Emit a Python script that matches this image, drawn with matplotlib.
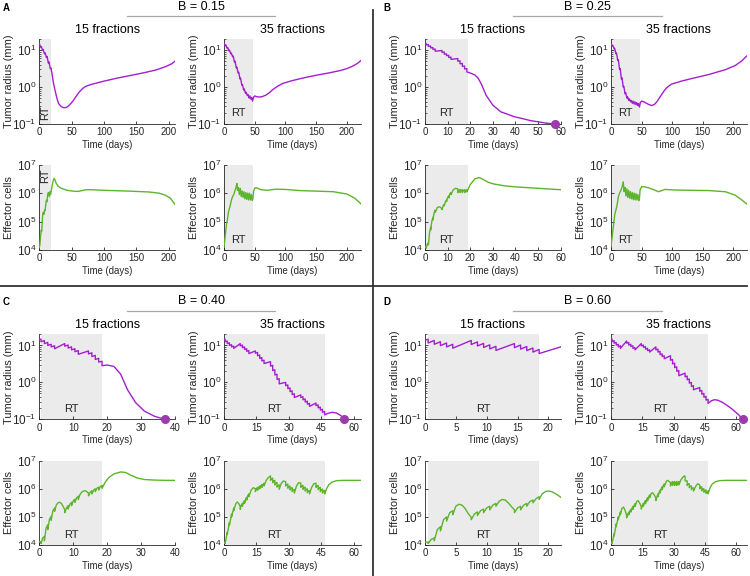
import matplotlib
matplotlib.use("Agg")
import matplotlib.pyplot as plt
from matplotlib.lines import Line2D
import numpy as np

plt.rcParams['font.family'] = ['Liberation Sans', 'DejaVu Sans']
plt.rcParams['mathtext.fontset'] = 'custom'
plt.rcParams['mathtext.rm'] = 'Liberation Sans'
plt.rcParams['mathtext.it'] = 'Liberation Sans:italic'
plt.rcParams['mathtext.bf'] = 'Liberation Sans:bold'
plt.rcParams['axes.unicode_minus'] = False

# ---------------- data (log10 units) ----------------
fx15 = [0.5, 1.5, 2.5, 3.5, 4.5, 7.5, 8.5, 9.5, 10.5, 11.5, 14.5, 15.5, 16.5, 17.5, 18.5]
fx35 = [0.5, 1.5, 2.5, 3.5, 4.5, 7.5, 8.5, 9.5, 10.5, 11.5, 14.5, 15.5, 16.5, 17.5, 18.5,
        21.5, 22.5, 23.5, 24.5, 25.5, 28.5, 29.5, 30.5, 31.5, 32.5, 35.5, 36.5, 37.5, 38.5, 39.5,
        42.5, 43.5, 44.5, 45.5, 46.5]

# B = 0.15
a15_tum_t = [0, 2, 3, 5, 6, 8, 9, 11, 12, 14, 15, 17, 18, 19.5, 22, 25, 28, 30, 34, 38,
             42, 46, 52, 57, 62, 67, 72, 80, 100, 120, 140, 160, 180, 195, 205, 210]
a15_tum_log = [1.18, 1.08, 1.1, 1.0, 1.02, 0.9, 0.93, 0.8, 0.83, 0.65, 0.68, 0.5, 0.52, 0.38, 0.1, -0.14, -0.35, -0.45, -0.53, -0.56,
               -0.55, -0.5, -0.38, -0.25, -0.13, -0.04, 0.02, 0.07, 0.16, 0.24, 0.31, 0.38, 0.46, 0.55, 0.63, 0.7]
a15_eff_t = [0, 1, 2, 3, 3.7, 4.5, 5.5, 6.3, 7, 8, 9, 10, 11, 12, 13, 14, 15.5, 16.5, 17.5, 18.5,
             19.5, 21, 23, 24.5, 26, 29, 33, 43, 52, 60, 72, 80, 100, 140, 170, 185, 195, 203, 210]
a15_eff_log = [4.08, 4.2, 4.5, 4.7, 4.65, 5.0, 5.3, 5.32, 5.25, 5.4, 5.38, 5.6, 5.75, 5.7, 5.95, 6.02, 5.88, 6.05, 5.95, 6.1,
               6.2, 6.4, 6.52, 6.45, 6.35, 6.25, 6.18, 6.1, 6.07, 6.06, 6.12, 6.12, 6.1, 6.07, 6.04, 6.0, 5.93, 5.82, 5.6]
a35_tum_t = [0, 2, 3, 5, 6, 8, 9, 11, 12, 14, 15, 17, 18, 20, 21, 23, 24, 26, 27, 29,
             30, 32, 33, 35, 36, 38, 39, 41, 42, 44, 45, 46.5, 48, 50, 53, 57, 62, 68, 74, 80,
             88, 96, 110, 130, 150, 170, 190, 200, 210, 218, 223]
a35_tum_log = [1.18, 1.12, 1.14, 1.05, 1.07, 0.98, 1.0, 0.9, 0.92, 0.82, 0.84, 0.68, 0.7, 0.52, 0.54, 0.38, 0.4, 0.22, 0.24, 0.05,
               0.07, -0.08, -0.05, -0.17, -0.14, -0.23, -0.2, -0.3, -0.24, -0.33, -0.28, -0.38, -0.28, -0.24, -0.26, -0.27, -0.26, -0.22, -0.15, -0.06,
               0.03, 0.1, 0.17, 0.25, 0.32, 0.38, 0.45, 0.5, 0.57, 0.65, 0.72]
a35_eff_t = [0, 2, 4, 5.5, 7, 8, 10, 12, 14, 16, 18, 19.5, 21, 22, 23.5, 25, 26.5, 28, 29.5, 31,
             32.5, 34, 35.5, 37, 38.5, 40, 41.5, 43, 44.5, 46, 47, 48, 50, 53, 60, 70, 85, 100, 123, 150,
             178, 200, 213, 223]
a35_eff_log = [4.1, 4.5, 4.9, 5.05, 5.3, 5.4, 5.55, 5.75, 5.88, 5.95, 6.1, 6.2, 6.34, 6.1, 6.2, 5.95, 6.17, 5.88, 6.08, 5.85,
               6.05, 5.8, 6.02, 5.78, 6.0, 5.76, 6.0, 5.76, 5.95, 5.74, 5.8, 6.05, 6.18, 6.19, 6.12, 6.1, 6.14, 6.13, 6.09, 6.07,
               6.05, 5.97, 5.82, 5.62]

# B = 0.25
b15_tum_pre = [1.18, 1.15, 1.11, 1.07, 1.03, 0.99, 0.95, 0.90, 0.86, 0.81, 0.77, 0.71, 0.64, 0.57, 0.50]
b15_tum_post = [1.14, 1.10, 1.06, 1.02, 0.97, 0.94, 0.89, 0.85, 0.80, 0.75, 0.70, 0.63, 0.56, 0.49, 0.41]
b15_tum_xt = [0, 20, 22, 23.5, 25, 27, 30, 33.5, 39.4, 46.8, 54, 57.5]
b15_tum_xlog = [1.18, 0.38, 0.33, 0.24, 0.07, -0.22, -0.49, -0.67, -0.8, -0.91, -0.98, -1.0]
b15_eff_pre = [4.1, 4.25, 4.8, 5.15, 5.4, 5.45, 5.6, 5.75, 5.9, 6.02, 6.15, 6.13, 6.12, 6.12, 6.12]
b15_eff_post = [4.06, 4.18, 4.7, 5.05, 5.32, 5.42, 5.55, 5.7, 5.83, 5.95, 6.02, 6.02, 6.02, 6.02, 6.04]
b15_eff_xt = [0, 1.0, 2.0, 3.0, 4.0, 5.5, 6.5, 8, 9, 10, 11, 12.5, 13.5, 15, 16, 17, 18,
              20, 22, 24, 26, 28, 30.5, 35, 40, 50, 60]
b15_eff_xlog = [4.12, 4.2, 4.6, 5.0, 5.3, 5.5, 5.52, 5.55, 5.7, 5.85, 5.98, 6.12, 6.17, 6.1, 6.1, 6.1, 6.1,
                6.3, 6.5, 6.55, 6.47, 6.38, 6.32, 6.26, 6.22, 6.17, 6.12]
b35_tum_t = [0, 2, 3, 5, 6, 8, 9, 11, 12, 14, 15, 17, 18, 20, 21, 23, 24, 26, 27, 29,
             30, 32, 33, 35, 36, 38, 39, 41, 42, 44, 45, 46.5, 48, 50, 54, 58, 63, 67, 71, 75,
             79, 83, 87, 91, 99, 115, 132, 160, 187, 203, 214, 222]
b35_tum_log = [1.17, 1.12, 1.13, 1.04, 1.05, 0.9, 0.92, 0.72, 0.74, 0.48, 0.5, 0.22, 0.25, 0.0, 0.02, -0.18, -0.15, -0.3, -0.26, -0.36,
               -0.32, -0.4, -0.36, -0.44, -0.38, -0.46, -0.4, -0.48, -0.42, -0.5, -0.45, -0.54, -0.42, -0.38, -0.4, -0.44, -0.48, -0.5, -0.47, -0.4,
               -0.3, -0.2, -0.1, -0.02, 0.08, 0.16, 0.23, 0.34, 0.47, 0.58, 0.71, 0.84]
b35_eff_t = [0, 2, 3.8, 5, 6.5, 8, 9.3, 10.5, 12, 14, 16.4, 18, 20, 21.5, 23, 24.5, 26, 27.5, 29, 30.5,
             32, 33.5, 35, 36.5, 38, 39.5, 41, 42.5, 44, 45.5, 46.5, 47.5, 50, 55, 61, 70, 77.6, 88.5, 105, 130,
             160, 187, 203, 214, 222]
b35_eff_log = [4.12, 4.5, 4.82, 5.05, 5.29, 5.4, 5.52, 5.65, 5.87, 6.0, 6.11, 6.2, 6.4, 6.05, 6.2, 5.9, 6.15, 5.85, 6.1, 5.82,
               6.05, 5.8, 6.02, 5.77, 6.0, 5.76, 5.98, 5.76, 5.95, 5.74, 5.78, 6.1, 6.23, 6.22, 6.19, 6.12, 6.05, 6.13, 6.11, 6.1,
               6.09, 6.05, 5.93, 5.76, 5.62]

# B = 0.40
c15_tum_pre = [1.17, 1.13, 1.08, 1.03, 0.99, 1.05, 1.01, 0.96, 0.91, 0.86, 0.85, 0.80, 0.73, 0.65, 0.57]
c15_tum_post = [1.10, 1.05, 1.00, 0.96, 0.91, 0.98, 0.93, 0.88, 0.83, 0.76, 0.77, 0.70, 0.62, 0.55, 0.45]
c15_tum_xt = [0, 20, 22, 24, 26, 28.4, 31, 34, 37]
c15_tum_xlog = [1.16, 0.47, 0.43, 0.22, -0.2, -0.55, -0.78, -0.92, -1.0]
c15_eff_pre = [4.12, 4.3, 4.72, 5.02, 5.32, 5.25, 5.4, 5.52, 5.63, 5.74, 5.85, 5.93, 6.0, 6.06, 6.12]
c15_eff_post = [4.05, 4.15, 4.55, 4.88, 5.2, 5.15, 5.28, 5.4, 5.52, 5.62, 5.75, 5.82, 5.9, 5.96, 6.02]
c15_eff_xt = [0, 1.0, 2.0, 3.0, 4.0, 5.0, 5.5, 6.0, 6.5, 7.0, 8.0, 9.0, 10.0, 11.0, 12.0, 12.5, 13.0, 13.5, 14.0,
              15.0, 16.0, 17.0, 18.0, 19.5, 20.5, 22, 24, 25.5, 27, 29, 31, 34, 37, 40]
c15_eff_xlog = [4.1, 4.25, 4.6, 4.92, 5.22, 5.42, 5.5, 5.52, 5.48, 5.38, 5.32, 5.45, 5.57, 5.68, 5.8, 5.88, 5.92, 5.93, 5.9,
                5.88, 5.95, 6.02, 6.08, 6.25, 6.4, 6.53, 6.6, 6.58, 6.48, 6.38, 6.33, 6.31, 6.3, 6.3]
c35_tum_pre = [1.17, 1.12, 1.07, 1.02, 0.98, 1.05, 1.01, 0.96, 0.91, 0.86, 0.85, 0.81, 0.74, 0.67, 0.60,
               0.56, 0.46, 0.34, 0.22, 0.10, 0.0, -0.07, -0.15, -0.23, -0.31, -0.34, -0.39, -0.45, -0.51, -0.57,
               -0.56, -0.61, -0.67, -0.73, -0.79]
c35_tum_post = [1.10, 1.05, 1.00, 0.96, 0.92, 0.99, 0.94, 0.89, 0.84, 0.78, 0.79, 0.72, 0.65, 0.58, 0.51,
                0.44, 0.32, 0.20, 0.08, -0.04, -0.09, -0.17, -0.25, -0.33, -0.41, -0.41, -0.47, -0.53, -0.59, -0.65,
                -0.63, -0.69, -0.75, -0.81, -0.88]
c35_tum_xt = [0, 48, 50, 52, 54, 55.5]
c35_tum_xlog = [1.16, -0.84, -0.81, -0.83, -0.9, -1.0]
c35_eff_pre = [4.1, 4.45, 4.8, 5.1, 5.32, 5.36, 5.48, 5.58, 5.7, 5.82, 6.0, 6.05, 6.1, 6.15, 6.2,
               6.46, 6.38, 6.3, 6.22, 6.14, 6.25, 6.17, 6.1, 6.04, 5.98, 6.2, 6.12, 6.06, 6.0, 5.94,
               6.2, 6.12, 6.05, 5.99, 5.94]
c35_eff_post = [4.05, 4.38, 4.7, 5.0, 5.22, 5.27, 5.38, 5.48, 5.6, 5.72, 5.9, 5.95, 6.0, 6.05, 6.1,
                6.3, 6.22, 6.14, 6.06, 5.98, 6.1, 6.02, 5.96, 5.9, 5.85, 6.05, 5.98, 5.92, 5.86, 5.82,
                6.05, 5.97, 5.9, 5.85, 5.82]
c35_eff_xt = [0, 5.5, 6.2, 7.0, 8.0, 9.0, 10.0, 11.0, 12.5, 13.5, 15, 16, 17, 18, 19.5, 20.5, 22, 23, 24, 25,
              26.5, 27.5, 29, 30, 31, 32, 33.5, 34.5, 36, 37, 38, 39, 40.5, 41.5, 43, 44, 45, 46,
              47.5, 48.5, 50, 52, 55, 60, 63.3]
c35_eff_xlog = [4.08, 5.48, 5.53, 5.45, 5.42, 5.52, 5.64, 5.76, 5.95, 6.04, 6.0, 6.05, 6.1, 6.15, 6.3, 6.4, 6.36, 6.28, 6.2, 6.12,
                6.2, 6.28, 6.15, 6.08, 6.02, 5.96, 6.1, 6.22, 6.1, 6.04, 5.98, 5.92, 6.05, 6.18, 6.1, 6.03, 5.97, 5.92,
                6.02, 6.15, 6.24, 6.29, 6.3, 6.3, 6.3]

# B = 0.60
d15_tum_pre = [1.17, 1.135, 1.10, 1.065, 1.03, 1.135, 1.095, 1.055, 1.015, 0.975, 1.05, 1.01, 0.97, 0.93, 0.89]
d15_tum_post = [1.065, 1.03, 0.995, 0.96, 0.925, 1.025, 0.985, 0.945, 0.905, 0.865, 0.94, 0.90, 0.86, 0.82, 0.78]
d15_tum_xt = [0, 22]
d15_tum_xlog = [1.14, 0.96]
d15_eff_pre = [4.1, 4.25, 4.65, 5.0, 5.22, 4.98, 5.18, 5.28, 5.38, 5.48, 5.25, 5.38, 5.48, 5.6, 5.72]
d15_eff_post = [4.05, 4.15, 4.5, 4.85, 5.08, 4.9, 5.05, 5.15, 5.25, 5.38, 5.15, 5.25, 5.38, 5.5, 5.62]
d15_eff_xt = [0, 1.0, 2.0, 3.0, 4.0, 5.0, 5.5, 6.0, 6.5, 7.0, 8.0, 9.0, 10.0, 11.0, 12.0, 12.5, 13.0, 13.5, 14.0,
              15.0, 16.0, 17.0, 18.0, 19, 19.5, 20, 20.5, 21, 21.5, 22]
d15_eff_xlog = [4.1, 4.2, 4.55, 4.9, 5.15, 5.38, 5.45, 5.42, 5.3, 5.12, 5.1, 5.22, 5.32, 5.42, 5.55, 5.62, 5.6, 5.5, 5.37,
                5.32, 5.42, 5.55, 5.65, 5.82, 5.9, 5.92, 5.9, 5.85, 5.78, 5.7]
d35_tum_pre = [1.17, 1.13, 1.08, 1.03, 0.99, 1.12, 1.08, 1.03, 0.99, 0.94, 1.05, 1.01, 0.97, 0.92, 0.88,
               0.96, 0.90, 0.84, 0.77, 0.72, 0.72, 0.62, 0.52, 0.42, 0.32, 0.25, 0.17, 0.09, 0.0, -0.09,
               -0.14, -0.22, -0.30, -0.38, -0.46]
d35_tum_post = [1.10, 1.06, 1.01, 0.96, 0.92, 1.06, 1.01, 0.97, 0.92, 0.88, 0.99, 0.95, 0.90, 0.86, 0.82,
                0.88, 0.82, 0.75, 0.70, 0.64, 0.60, 0.50, 0.40, 0.30, 0.18, 0.15, 0.07, -0.02, -0.11, -0.20,
                -0.24, -0.32, -0.40, -0.48, -0.57]
d35_tum_xt = [0, 48, 49.5, 51, 53, 55, 57, 59, 61, 63]
d35_tum_xlog = [1.16, -0.5, -0.47, -0.48, -0.53, -0.6, -0.68, -0.77, -0.87, -1.0]
d35_eff_pre = [4.1, 4.4, 4.75, 5.0, 5.18, 5.05, 5.17, 5.27, 5.37, 5.47, 5.36, 5.48, 5.58, 5.68, 5.78,
               5.66, 5.82, 5.95, 6.07, 6.17, 6.22, 6.26, 6.26, 6.26, 6.26, 6.44, 6.28, 6.18, 6.1, 6.03,
               6.14, 6.07, 6.0, 5.96, 5.92]
d35_eff_post = [4.05, 4.32, 4.65, 4.9, 5.08, 4.97, 5.07, 5.17, 5.27, 5.37, 5.28, 5.38, 5.47, 5.57, 5.68,
                5.58, 5.72, 5.85, 5.97, 6.07, 6.1, 6.12, 6.12, 6.12, 6.14, 6.28, 6.12, 6.04, 5.97, 5.92,
                6.0, 5.93, 5.88, 5.84, 5.82]
d35_eff_xt = [0, 5.2, 6.0, 6.8, 8, 9, 10, 11, 12.3, 13, 13.8, 15, 16, 17, 18, 19.3, 20, 20.8, 22, 23,
              24, 25, 26.5, 27.2, 28, 29, 30, 31, 32, 33.5, 34.5, 35.2, 36, 37, 38, 39, 40.5, 41.5, 43, 44,
              45, 46, 47.5, 48.5, 50, 52, 55, 60, 65]
d35_eff_xlog = [4.08, 5.3, 5.35, 5.22, 5.1, 5.2, 5.3, 5.4, 5.55, 5.58, 5.48, 5.4, 5.5, 5.6, 5.7, 5.84, 5.86, 5.77, 5.72, 5.86,
                5.99, 6.1, 6.27, 6.3, 6.25, 6.22, 6.22, 6.22, 6.22, 6.32, 6.42, 6.46, 6.28, 6.18, 6.1, 6.03, 6.08, 6.18, 6.06, 5.99,
                5.94, 5.9, 6.05, 6.17, 6.25, 6.29, 6.3, 6.3, 6.3]

# panel settings
b_values = ['0.15', '0.25', '0.40', '0.60']
panel_letters = ['A', 'B', 'C', 'D']
n_fractions = ['15 fractions', '35 fractions']
xlims = [[210, 223], [60, 222], [40, 63.3], [22, 65]]
xticks = [[[0, 50, 100, 150, 200], [0, 50, 100, 150, 200]],
          [[0, 10, 20, 30, 40, 50, 60], [0, 50, 100, 150, 200]],
          [[0, 10, 20, 30, 40], [0, 15, 30, 45, 60]],
          [[0, 5, 10, 15, 20], [0, 15, 30, 45, 60]]]
rt_end = [[18.8, 47], [18.8, 47], [18.5, 46.5], [18.5, 46.5]]
rt_start = [[0, 0], [0, 0], [0.5, 0.5], [0.5, 0.5]]
end_dot = [[None, None], [57.5, None], [37, 55.5], [None, 63]]


def sawtooth(fx, pre, post, xt, xlog):
    # fraction times give an instant drop pre -> post; xt/xlog are the other read points
    pts = [(t, 1, v) for t, v in zip(xt, xlog)]
    for t, a, b in zip(fx, pre, post):
        pts.append((t, 0, a))
        pts.append((t, 2, b))
    pts.sort(key=lambda p: (p[0], p[1]))
    t = np.array([p[0] for p in pts])
    v = 10 ** np.array([p[2] for p in pts])
    return t, v


def plain(t, lg):
    return np.array(t), 10 ** np.array(lg)


tumor = [
    [plain(a15_tum_t, a15_tum_log), plain(a35_tum_t, a35_tum_log)],
    [sawtooth(fx15, b15_tum_pre, b15_tum_post, b15_tum_xt, b15_tum_xlog), plain(b35_tum_t, b35_tum_log)],
    [sawtooth(fx15, c15_tum_pre, c15_tum_post, c15_tum_xt, c15_tum_xlog),
     sawtooth(fx35, c35_tum_pre, c35_tum_post, c35_tum_xt, c35_tum_xlog)],
    [sawtooth(fx15, d15_tum_pre, d15_tum_post, d15_tum_xt, d15_tum_xlog),
     sawtooth(fx35, d35_tum_pre, d35_tum_post, d35_tum_xt, d35_tum_xlog)],
]
effector = [
    [plain(a15_eff_t, a15_eff_log), plain(a35_eff_t, a35_eff_log)],
    [sawtooth(fx15, b15_eff_pre, b15_eff_post, b15_eff_xt, b15_eff_xlog), plain(b35_eff_t, b35_eff_log)],
    [sawtooth(fx15, c15_eff_pre, c15_eff_post, c15_eff_xt, c15_eff_xlog),
     sawtooth(fx35, c35_eff_pre, c35_eff_post, c35_eff_xt, c35_eff_xlog)],
    [sawtooth(fx15, d15_eff_pre, d15_eff_post, d15_eff_xt, d15_eff_xlog),
     sawtooth(fx35, d35_eff_pre, d35_eff_post, d35_eff_xt, d35_eff_xlog)],
]

# ---------------- figure ----------------
W, H = 750, 576
fig = plt.figure(figsize=(7.5, 5.76), dpi=100)

PURPLE = '#a41ed0'
GREEN = '#5db52c'
DOT = '#9c3aae'
SHADE = '#ebebeb'
INK = '#262626'


def px_axes(x0, y0, x1, y1):
    return fig.add_axes([x0 / W, 1 - y1 / H, (x1 - x0) / W, (y1 - y0) / H])


def style(ax):
    for s in ['top', 'right']:
        ax.spines[s].set_visible(False)
    for s in ['left', 'bottom']:
        ax.spines[s].set_color(INK)
        ax.spines[s].set_linewidth(0.6)
    ax.tick_params(which='major', direction='in', length=2.5, width=0.6, colors=INK, pad=2.5)
    ax.tick_params(axis='x', labelsize=7)
    ax.tick_params(axis='y', labelsize=8.5, pad=2)
    ax.tick_params(which='minor', direction='in', length=1.3, width=0.5, colors=INK)
    ax.tick_params(axis='x', which='minor', bottom=False)


col_x = [[(39.3, 175), (224, 361)], [(425, 560.7), (611, 746.7)]]
row_y = [[(39, 124), (164.7, 250)], [(334.3, 419.3), (460.7, 545)]]
btitle_y = [7, 301]
bline_y = [16, 310.7]
bline_x = [(127, 275), (513, 662)]
btitle_x = [201, 587.5]

for p in range(4):
    pr, pc = p // 2, p % 2
    for k in range(2):
        x0, x1 = col_x[pc][k]
        for r in range(2):
            y0, y1 = row_y[pr][r]
            ax = px_axes(x0, y0, x1, y1)
            style(ax)
            ax.set_yscale('log')
            t, v = tumor[p][k] if r == 0 else effector[p][k]
            ax.axvspan(rt_start[p][k], rt_end[p][k], color=SHADE, lw=0, zorder=0)
            ax.plot(t, v, color=PURPLE if r == 0 else GREEN, lw=1.0, zorder=3)
            ax.set_xlim(0, xlims[p][k])
            ax.set_xticks(xticks[p][k])
            ax.set_xlabel('Time (days)', fontsize=6.9, color=INK, labelpad=1.5)
            rt_mid = (rt_start[p][k] + rt_end[p][k]) / 2
            if r == 0:
                ax.set_ylim(0.1, 20)
                ax.set_yticks([0.1, 1, 10])
                ax.set_ylabel('Tumor radius (mm)', fontsize=7.9, color=INK)
                if p == 0 and k == 0:
                    ax.text(rt_mid, 10 ** -0.7, 'RT', rotation=90, ha='center', va='center',
                            fontsize=8, color=INK)
                else:
                    ax.text(rt_mid, 10 ** -0.71, 'RT', ha='center', va='center', fontsize=8, color=INK)
                if end_dot[p][k] is not None:
                    ax.plot([end_dot[p][k]], [0.1], 'o', color=DOT, ms=5.5, clip_on=False, zorder=5)
                ax.text(0.5, 1.04, n_fractions[k], transform=ax.transAxes, ha='center',
                        va='bottom', fontsize=9, color='black')
            else:
                ax.set_ylim(1e4, 1e7)
                ax.set_yticks([1e4, 1e5, 1e6, 1e7])
                ax.set_ylabel('Effector cells', fontsize=7.9, color=INK)
                if p == 0 and k == 0:
                    ax.text(rt_mid, 10 ** 6.62, 'RT', rotation=90, ha='center', va='center',
                            fontsize=8, color=INK)
                else:
                    ax.text(rt_mid, 10 ** 4.35, 'RT', ha='center', va='center', fontsize=8, color=INK)
            ax.yaxis.set_label_coords(-25 / (x1 - x0), 0.5)

    # panel headers
    fig.text(btitle_x[pc] / W, 1 - btitle_y[pr] / H, 'B = ' + b_values[p], ha='center', va='center',
             fontsize=9, color='black')
    bx0, bx1 = bline_x[pc]
    fig.add_artist(Line2D([bx0 / W, bx1 / W], [1 - bline_y[pr] / H] * 2, color='#a8a8a8', lw=0.9))
    fig.text((3 + 380 * pc) / W, 1 - (8 + 294 * pr) / H, panel_letters[p], ha='left', va='center',
             fontsize=7, fontweight='bold', color='black')

# dividers between panels
fig.add_artist(Line2D([373 / W, 373 / W], [0, 1 - 10 / H], color='#333333', lw=1.3))
fig.add_artist(Line2D([0, 747 / W], [1 - 285.5 / H] * 2, color='#333333', lw=1.3))

fig.savefig('out.png', dpi=100)
